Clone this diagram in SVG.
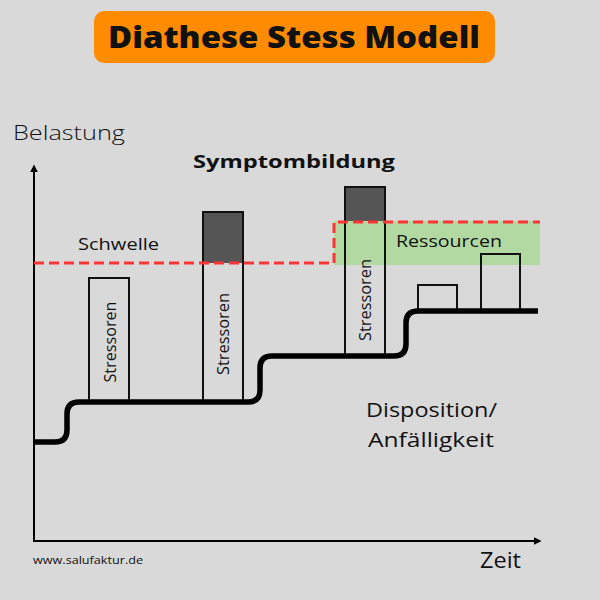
<svg xmlns="http://www.w3.org/2000/svg" width="600" height="600" viewBox="0 0 600 600">
<defs>
<marker id="arr" viewBox="0 0 10 10" refX="8" refY="5" markerWidth="4" markerHeight="4" orient="auto" markerUnits="strokeWidth">
<path d="M0,0 L10,5 L0,10 z" fill="#000"/>
</marker>
<style>
.t{font-family:"Open Sans","Liberation Sans",sans-serif;fill:#111;}
.box{fill:#d9d9d9;stroke:#111;stroke-width:2;}
.dark{fill:#555555;}
.st{font-size:16px;text-anchor:middle;}
</style>
</defs>
<rect x="0" y="0" width="600" height="600" fill="#d9d9d9"/>
<g id="title">
<rect x="94" y="11" width="401" height="52" rx="10" fill="#ff8c00"/>
<text class="t" x="294" y="48" font-size="30" font-weight="800" text-anchor="middle" textLength="372" lengthAdjust="spacingAndGlyphs" fill="#000">Diathese Stess Modell</text>
</g>
<g id="labels">
<text class="t" x="13" y="140" font-size="20" font-weight="300" textLength="112" lengthAdjust="spacingAndGlyphs">Belastung</text>
<text class="t" x="193" y="168" font-size="18" font-weight="700" textLength="202" lengthAdjust="spacingAndGlyphs" fill="#000">Symptombildung</text>
<text class="t" x="78" y="250" font-size="17" textLength="81" lengthAdjust="spacingAndGlyphs">Schwelle</text>
<text class="t" x="366" y="417" font-size="20" textLength="131" lengthAdjust="spacingAndGlyphs">Disposition/</text>
<text class="t" x="368" y="447" font-size="20" textLength="126" lengthAdjust="spacingAndGlyphs">Anfälligkeit</text>
<text class="t" x="480" y="568" font-size="22" textLength="41" lengthAdjust="spacingAndGlyphs">Zeit</text>
<text class="t" x="33" y="564" font-size="11" textLength="110" lengthAdjust="spacingAndGlyphs">www.salufaktur.de</text>
</g>
<g id="ressourcen">
<rect x="334" y="221" width="206" height="44" fill="#b3d9a2"/>
<text class="t" x="396" y="247" font-size="17" textLength="106" lengthAdjust="spacingAndGlyphs">Ressourcen</text>
</g>
<g id="stressor1">
<rect class="box" x="89" y="278" width="40" height="124"/>
<text class="t st" transform="translate(115.5,342) rotate(-90)" textLength="81" lengthAdjust="spacingAndGlyphs">Stressoren</text>
</g>
<g id="stressor2">
<rect class="box" x="203" y="212" width="40" height="190"/>
<rect class="dark" x="204" y="213" width="38" height="50"/>
<text class="t st" transform="translate(228.5,334) rotate(-90)" textLength="82" lengthAdjust="spacingAndGlyphs">Stressoren</text>
</g>
<g id="stressor3">
<rect class="box" x="345" y="187" width="40" height="169" fill-opacity="0"/>
<rect class="dark" x="346" y="188" width="38" height="33"/>
<text class="t st" transform="translate(371,300) rotate(-90)" textLength="82" lengthAdjust="spacingAndGlyphs">Stressoren</text>
</g>
<g id="stressor4">
<rect class="box" x="418" y="285" width="39" height="26"/>
</g>
<g id="stressor5">
<rect class="box" x="481" y="254" width="39" height="57" fill-opacity="0"/>
</g>
<g id="connectors" fill="none">
<line x1="34" y1="541" x2="34" y2="166" stroke="#000" stroke-width="2" marker-end="url(#arr)"/>
<line x1="33" y1="541" x2="540" y2="541" stroke="#000" stroke-width="2" marker-end="url(#arr)"/>
<path d="M34,263 H334 V222 H540" stroke="#ff3535" stroke-width="3" stroke-dasharray="10,5"/>
<path d="M34,442 H55 Q67,442 67,430 V414 Q67,402 79,402 H248 Q260,402 260,390 V368 Q260,356 272,356 H394 Q406,356 406,344 V323 Q406,311 418,311 H538" stroke="#000" stroke-width="5.5"/>
</g>
</svg>
